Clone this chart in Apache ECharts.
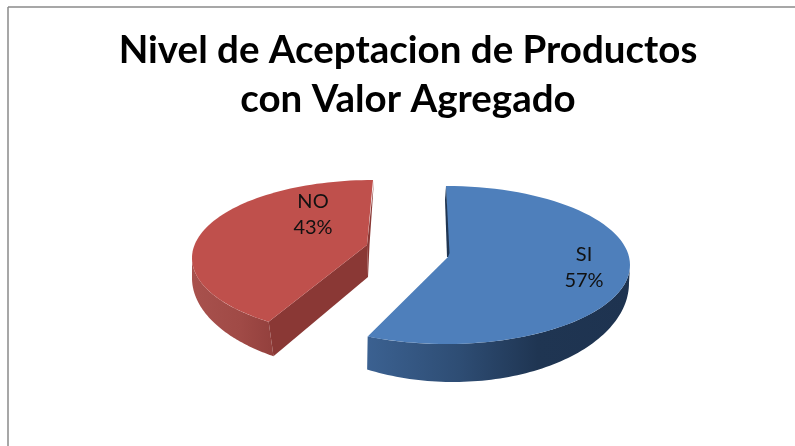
<!DOCTYPE html>
<html>
<head>
<meta charset="utf-8">
<style>html,body{margin:0;padding:0;background:#fff}#c{width:795px;height:446px}</style>
<script src="https://cdn.jsdelivr.net/npm/echarts@6/dist/echarts.min.js"></script>
</head>
<body>
<div id="c"></div>
<script>
const categories = ['SI', 'NO'];
const seriesValues = [57, 43];
const titleLines = ['Nivel de Aceptacion de Productos', 'con Valor Agregado'];

// Projection of each exploded 3D slice (styling/layout only; angles come from the values).
const sliceStyles = {
  SI: {
    top: { cx: 446, cy: 265, rx: 184, ry: 79 },
    bottom: { cx: 453, cy: 283, rx: 176, ry: 99 },
    apex: [448, 257], apexDepth: 0, cutSkewTop: 0, cutSkewBottom: 4,
    wallSide: 'end', wallLimit: 90,
    face: '#4e7fbb',
    wallStops: [[0, '#3b6191'], [0.35, '#2e4d74'], [0.65, '#1f3552'], [1, '#1e3350']],
    wallRange: [367, 630],
    label: [584, 268]
  },
  NO: {
    top: { cx: 373, cy: 258, rx: 181, ry: 78 },
    bottom: { cx: 375, cy: 278, rx: 183, ry: 94 },
    apex: [367, 245], apexDepth: 32, cutSkewTop: 10, cutSkewBottom: 8.5,
    wallSide: 'start', wallLimit: 270,
    face: '#bf504c',
    wallStops: [[0, '#a8514d'], [0.6, '#a04a46'], [1, '#93403d']],
    wallRange: [192, 273],
    cutFace: '#8a3835',
    label: [313, 215]
  }
};

const total = seriesValues.reduce((a, b) => a + b, 0);
const rim = (e, deg) => {
  const t = deg * Math.PI / 180;
  return [e.cx + e.rx * Math.sin(t), e.cy - e.ry * Math.cos(t)];
};
const arc = (e, a, b) => {
  const pts = [], n = 80;
  for (let i = 0; i <= n; i++) pts.push(rim(e, a + (b - a) * i / n));
  return pts;
};
const poly = (points, fill) => ({ type: 'polygon', shape: { points }, style: { fill } });

function renderItem(params, api) {
  const idx = params.dataIndex;
  const name = categories[idx];
  const s = sliceStyles[name];
  let acc = 0;
  for (let i = 0; i < idx; i++) acc += seriesValues[i];
  const a0 = acc / total * 360;
  const a1 = (acc + api.value(0)) / total * 360;
  const children = [];
  const grad = new echarts.graphic.LinearGradient(
    s.wallRange[0], 0, s.wallRange[1], 0,
    s.wallStops.map(p => ({ offset: p[0], color: p[1] })), true);

  if (s.wallSide === 'end') {
    const upper = arc(s.top, s.wallLimit, a1 + s.cutSkewTop);
    const lower = arc(s.bottom, s.wallLimit, a1 + s.cutSkewBottom).reverse();
    children.push(poly(upper.concat(lower), grad));
  } else {
    const start = a0 + s.cutSkewTop;
    const upper = arc(s.top, start, s.wallLimit);
    const lower = arc(s.bottom, a0 + s.cutSkewBottom, s.wallLimit).reverse();
    children.push(poly(upper.concat(lower), grad));
    const rimStart = rim(s.top, start);
    const lowStart = rim(s.bottom, a0 + s.cutSkewBottom);
    const apexLow = [s.apex[0] + 1, s.apex[1] + s.apexDepth];
    children.push(poly([rimStart, s.apex, apexLow, lowStart], s.cutFace));
    const rimEnd = rim(s.top, a1);
    children.push(poly([[rimEnd[0] + 1, rimEnd[1]], [s.apex[0] + 2.5, s.apex[1]], apexLow, s.apex], s.cutFace));
  }

  const startA = s.wallSide === 'end' ? a0 : a0 + s.cutSkewTop;
  const endA = s.wallSide === 'end' ? a1 + s.cutSkewTop : a1;
  children.push(poly([s.apex].concat(arc(s.top, startA, endA)), s.face));

  if (s.wallSide === 'end') {
    const p = rim(s.top, a0);
    children.push(poly([p, [p[0] - 1, p[1] + 14], [s.apex[0] - 1, s.apex[1]], s.apex, [s.apex[0] + 1.5, s.apex[1] - 4]], '#1f3552'));
  }

  children.push({
    type: 'text',
    style: {
      x: s.label[0], y: s.label[1],
      text: name + '\n' + Math.round(api.value(0) / total * 100) + '%',
      fill: '#111', font: '20px Lato', lineHeight: 26,
      align: 'center', verticalAlign: 'middle'
    }
  });
  return { type: 'group', children };
}

const chart = echarts.init(document.getElementById('c'), null, { renderer: 'canvas' });
chart.setOption({
  animation: false,
  backgroundColor: '#fff',
  title: {
    text: titleLines.join('\n'),
    left: 403,
    top: 21,
    textAlign: 'center',
    textStyle: { fontFamily: 'Lato', fontWeight: 'bold', fontSize: 38.5, lineHeight: 49, color: '#000', align: 'center' }
  },
  graphic: [
    { type: 'line', silent: true, shape: { x1: 8, y1: 7, x2: 795, y2: 7 }, style: { stroke: '#8a8a8a', lineWidth: 1.5 } },
    { type: 'line', silent: true, shape: { x1: 8, y1: 7, x2: 8, y2: 446 }, style: { stroke: '#8a8a8a', lineWidth: 1.5 } }
  ],
  series: [{
    type: 'custom',
    coordinateSystem: 'none',
    renderItem,
    data: seriesValues.map((v, i) => ({ name: categories[i], value: [v] }))
  }]
});
</script>
</body>
</html>
